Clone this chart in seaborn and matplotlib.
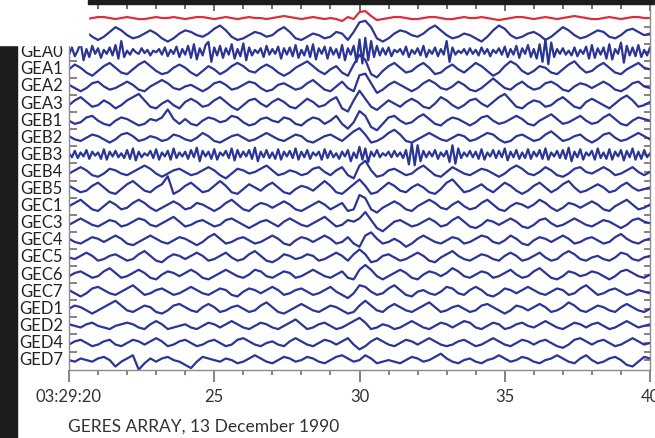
import numpy as np
import pandas as pd
import matplotlib
matplotlib.use("Agg")
import matplotlib.pyplot as plt
import seaborn as sns
from matplotlib.patches import Rectangle
from matplotlib.ticker import MultipleLocator

# station names, top to bottom (first two traces have no label)
stations = ["beam", "ref", "GEA0", "GEA1", "GEA2", "GEA3", "GEB1", "GEB2", "GEB3",
            "GEB4", "GEB5", "GEC1", "GEC3", "GEC4", "GEC5", "GEC6", "GEC7",
            "GED1", "GED2", "GED4", "GED7"]

# x tick labels (seconds after 03:29)
xtick_pos = [20, 25, 30, 35, 40]
xtick_lab = ["03:29:20", "25", "30", "35", "40"]

# traces, roughly in pixels of deflection
# coarse traces: one value every 0.2 s from 20 to 40 s
beam = [0,1,0,-1,0,1,1,0,-1,0, 1,0,-1,-1,0,1,0,0,1,0, -1,0,1,1,0,-1,0,1,0,-1,
        0,1,0,0,-1,0,1,2,1,0, -1,0,1,0,-1,0,-1,-3,1,-1, 6,7,2,-2,-1,0,1,1,0,-1,
        -1,0,1,1,0,-1,-1,0,1,0, 0,1,0,-1,-2,-1,0,1,1,0, -1,0,1,0,-1,0,1,2,1,0,
        -1,-1,0,1,0,-1,0,1,1,0, 0]
ref = [0,2,4,2,-1,-3,-1,2,5,3, 0,-2,-1,1,3,1,-2,-4,-2,1, 3,2,0,-1,1,4,6,3,-1,-3,
       -2,0,2,1,-1,0,3,5,2,-2, -3,-1,1,0,-2,-1,2,1,-3,2, 8,9,5,-2,-4,-2,1,3,2,0,
       -1,1,4,6,3,0,-2,-1,1,0, -2,-4,-1,3,6,4,0,-2,-1,1, 2,0,-3,-1,2,5,3,0,-2,-1,
       1,3,2,-1,-2,0,3,4,2,0, 1]
gea1 = [0,3,1,-2,-4,-1,2,4,1,-2, -3,0,3,5,2,-1,-3,-2,1,3, 1,-2,-4,-1,2,0,-3,-1,2,4,
        2,-1,-2,1,3,1,-2,-4,-2,1, 3,5,2,-1,-3,0,2,-2,-4,3, 9,6,-3,-5,-1,2,4,1,-2,-1,
        2,4,1,-3,-2,1,3,0,-2,1, 4,2,-1,-4,-2,2,5,3,-1,-3, -1,2,1,-2,-3,0,3,5,1,-2,
        -1,2,4,1,-2,-3,0,2,4,1, 0]
gea2 = [1,-1,-3,-1,2,3,0,-2,-1,1, 3,1,-2,-3,0,2,4,2,-1,-2, 0,1,-1,-3,-1,2,3,1,-2,-1,
        1,3,2,-1,-3,-2,1,2,0,-2, -1,2,4,1,-2,-3,0,3,-1,-3, 7,8,2,-4,-2,1,3,1,-1,-3,
        -1,2,4,2,-1,-2,0,3,1,-2, -3,-1,2,5,2,-1,-2,1,3,0, -2,-1,2,3,1,-2,-3,0,2,1,
        -1,1,3,1,-2,-3,-1,2,3,0, -1]
gea3 = [-1,2,4,1,-2,-1,2,0,-3,-1, 2,4,6,2,-2,-3,0,2,-1,-3, 1,3,1,-2,-1,2,4,1,-2,-4,
        -1,2,3,0,-2,1,3,1,-2,-3, 0,3,1,-2,-1,2,4,-3,-5,2, 8,3,-2,-4,-1,2,0,-2,1,3,
        1,-2,-3,0,4,2,-1,-3,-1,2, 3,0,-2,1,4,6,2,-2,-3,0, 2,1,-2,-1,2,4,1,-2,-3,1,
        3,1,-1,-3,0,3,5,2,-2,-1, 1]
geb1 = [0,-2,-1,2,3,0,-2,-3,0,2, 1,-1,-3,-2,1,0,2,7,1,-2, 1,-2,-3,0,2,1,-1,0,3,2,
        -1,-3,-2,1,2,0,-1,2,1,-2, -3,0,2,1,-2,0,3,-2,-5,-1, 6,3,-4,-6,-2,2,3,0,-2,-1,
        2,4,1,-2,-3,0,2,1,-1,-3, -1,2,3,0,-2,-1,1,3,1,-2, -3,0,2,4,1,-2,-1,1,3,0,
        -2,-1,2,4,1,-2,-3,0,2,1, 0]
geb2 = [1,-1,-2,0,2,1,-1,-3,-1,2, 3,1,-2,-1,1,0,-2,-1,2,1, -1,-2,0,3,1,-2,-3,-1,1,2,
        0,-2,-1,1,3,1,-1,-2,0,2, 1,-2,-3,-1,1,2,0,-2,1,4, 6,2,-3,-2,0,3,5,2,-2,-3,
        -1,1,3,1,-1,-2,0,2,1,-2, -1,1,3,2,-1,-3,-2,1,2,0, -2,-1,2,4,1,-2,-1,1,2,-1,
        -3,-1,2,3,0,-2,-1,1,3,1, -1]
geb4 = [-1,1,3,1,-2,-3,-1,2,1,-1, -2,0,2,4,2,-1,-3,-1,1,2, 0,-2,-1,1,3,1,-2,-4,-1,2,
        1,-1,0,2,4,1,-2,-1,1,0, -2,-1,2,3,0,-2,1,3,-2,-4, 4,7,1,-3,-2,1,2,0,-2,-1,
        2,4,1,-2,-3,0,3,1,-1,-2, 0,2,1,-1,-3,-1,2,4,2,-1, -2,0,3,1,-2,-3,-1,2,3,0,
        -1,1,3,1,-2,-1,1,3,0,-2, 0]
geb5 = [2,0,-2,-1,2,4,1,-2,-3,0, 3,5,2,-1,-2,1,3,8,-3,-1, 2,4,1,-2,-1,2,5,2,-2,-3,
        0,3,1,-1,2,4,1,-2,-3,0, 2,1,-1,2,5,2,-2,-3,0,3, 6,2,-3,-2,1,4,2,-1,-2,1,
        3,1,-2,-3,0,4,6,2,-2,-1, 1,3,0,-2,1,4,2,-1,-3,-1, 2,4,1,-2,0,3,5,1,-2,-1,
        1,3,1,-2,-1,2,4,1,-1,0, 1]
gec1 = [0,2,4,1,-2,-3,0,3,1,-2, -1,2,4,2,-1,-3,-1,1,3,1, -2,-1,2,1,-1,-3,-1,2,4,1,
        -2,-3,0,2,1,-1,1,3,1,-2, -3,-1,1,3,1,-2,0,2,-3,-2, 7,5,-2,-4,-1,1,3,1,-2,-3,
        0,2,4,2,-1,-2,1,3,0,-2, -1,2,4,1,-2,-3,0,2,1,-1, 1,4,2,-1,-3,-1,2,1,-1,1,
        3,1,-2,-3,0,2,4,1,-2,-1, 1]
gec3 = [-1,1,3,1,-1,-2,0,2,1,-2, -1,1,3,2,-1,-2,0,2,4,1, -2,-1,1,2,0,-2,-1,2,3,1,
        -1,-3,-1,1,2,0,-2,1,3,1, -1,-2,0,2,4,1,-2,-1,2,1, 3,7,2,-3,-5,-2,1,2,0,-2,
        -1,1,3,1,-2,-1,2,4,1,-2, -3,-1,2,1,-1,1,3,1,-2,-3, -1,2,3,0,-2,-1,1,3,1,-1,
        -2,0,2,1,-1,-3,-1,2,3,1, 0]
gec4 = [1,-1,-2,0,2,1,-1,1,3,1, -2,-3,-1,1,3,1,-1,-2,0,2, 1,-1,-3,-1,2,4,1,-2,-1,1,
        2,0,-2,-1,1,3,1,-2,-3,0, 2,1,-1,1,3,1,-2,-1,2,-2, -4,3,5,1,-2,-1,1,-1,-4,-2,
        1,3,1,-1,-2,0,2,1,-2,-1, 1,3,2,-1,-2,0,3,1,-2,-3, 0,2,1,-1,1,3,1,-2,-1,1,
        2,0,-2,-1,2,4,1,-1,-2,0, 1]
gec5 = [0,-1,1,3,1,-2,-1,1,2,0, -2,-1,2,4,1,-2,-3,0,2,1, -1,1,3,1,-2,-1,1,3,0,-2,
        -1,2,4,1,-2,-3,-1,2,1,-1, 0,2,1,-2,-1,1,3,1,-2,2, 5,2,-3,-2,1,2,0,-2,-1,1,
        3,1,-2,-3,0,2,4,1,-1,-2, 0,2,1,-1,-2,1,3,1,-2,-1, 1,3,0,-2,-1,2,4,2,-1,-2,
        0,1,-1,-2,0,3,2,-1,-2,0, 1]
gec6 = [-1,1,2,0,-2,-1,2,4,1,-2, -1,1,3,1,-2,-3,0,2,1,-1, 1,3,1,-2,-3,-1,1,3,1,-1,
        -2,0,3,2,-1,-2,0,2,1,-2, -1,1,3,1,-1,-2,0,2,-2,-3, 3,6,3,-1,-3,-1,1,3,1,-2,
        -3,0,2,1,-1,1,4,2,-1,-2, 0,2,1,-2,-1,1,3,0,-2,-1, 2,4,1,-2,-3,-1,2,1,-1,0,
        2,1,-1,-3,-1,2,3,1,-1,-2, 0]
gec7 = [1,-1,-3,-1,2,3,1,-1,-2,0, 2,4,1,-2,-1,1,2,0,-2,-1, 1,3,1,-1,-2,0,2,1,-2,-3,
        0,2,1,-1,1,3,1,-2,-1,1, 2,0,-2,-1,1,3,0,-2,-4,-1, 4,3,0,-2,-1,2,4,1,-2,-3,
        0,1,-1,-2,0,3,2,-1,-2,1, 3,1,-2,-3,-1,2,1,-1,1,3, 1,-1,-2,0,2,1,-2,-1,2,4,
        1,-2,-1,1,2,0,-2,-1,1,0, -1]
ged1 = [0,2,1,-1,-3,-1,1,3,5,2, -1,-2,0,2,1,-2,-3,-1,2,3, 1,-1,-2,1,3,1,-2,-1,1,2,
        0,-2,-1,2,4,1,-2,-3,-1,1, 3,1,-1,-2,0,2,1,-1,-3,-2, 2,5,2,-1,-2,1,3,1,-1,-2,
        0,2,4,1,-2,-1,1,2,0,-2, -1,2,3,1,-1,-3,-1,2,1,-1, 1,3,1,-2,-1,1,4,2,-1,-2,
        0,2,1,-1,-2,1,3,1,-1,-2, 0]
ged2 = [1,0,-1,1,2,0,-1,-2,0,1, 2,1,-1,-2,1,3,1,-2,-1,0, 1,-1,-2,0,2,1,-1,1,3,1,
        -1,-2,0,2,1,-1,-2,0,2,4, 1,-2,-1,1,2,0,-2,-1,1,3, 5,2,-2,-1,1,0,-2,-1,1,3,
        1,-1,-2,0,2,1,-1,1,3,2, -1,-2,0,2,1,-2,-1,1,2,0, -1,1,3,1,-1,-2,0,2,1,-1,
        1,2,0,-2,-1,1,3,1,-1,0, 1]
ged4 = [-1,1,2,0,-2,-1,1,2,-1,-2, 0,2,1,-1,1,3,1,-2,-1,1, 2,0,-2,-1,1,2,0,-2,-1,2,
        3,1,-1,-2,0,1,-1,-2,1,3, 1,-1,-2,0,2,1,-1,1,3,-1, -4,-2,1,3,1,-1,-2,0,2,1,
        -1,1,3,1,-1,-2,-1,1,2,0, -2,-1,1,3,1,-1,-2,0,2,1, -1,1,2,0,-2,-3,-1,2,3,1,
        -1,1,2,0,-2,-1,1,3,1,-1, 0]
ged7 = [0,-1,1,0,-1,1,2,0,-4,-1, 1,3,-6,-2,1,-1,1,2,0,-1, -3,-5,-1,2,1,0,-1,1,0,-2,
        -1,1,3,1,-1,-2,0,2,1,-1, 0,2,1,-1,-2,0,2,3,1,-1, 0,3,1,-2,-1,0,-1,-2,0,2,
        1,-1,0,2,4,1,-1,-2,0,1, -1,-2,0,1,3,1,-1,0,2,1, -1,-2,0,1,3,1,-1,-2,1,3,
        0,-2,-1,1,2,0,-3,-4,-1,2, 1]

# fine traces: one value every 0.1 s (the two noisy stations)
gea0 = [-3,6,-5,2,12,-10,4,-6,8,-2, 5,-7,3,-2,6,-4,9,-8,14,-6, 2,-3,4,0,-2,5,-1,3,-4,2,
        0,4,-3,6,-5,3,-2,7,-6,4, -3,8,-7,10,-9,5,-4,9,13,-12, 6,-4,8,-7,5,-3,10,-8,4,-5,
        11,-10,6,-4,3,-1,5,-6,8,-3, 4,-2,7,-8,5,-3,6,-5,9,-7, 3,-4,8,-6,10,-9,5,-2,7,-8,
        6,-3,4,-7,9,-10,5,-3,8,-12, 16,-14,18,-10,14,-6,8,-4,5,-3, 6,-5,3,0,4,-3,7,-6,3,-2,
        5,-4,8,-6,3,-2,6,-5,4,-3, 14,-12,6,-3,2,-1,4,-3,5,-2, 3,-4,6,-2,4,-5,3,-1,5,-3,
        7,-6,4,-3,8,-7,5,-2,9,-6, 4,-8,10,-12,16,-15,12,-6,4,-2, 5,-3,2,-4,6,-5,3,-2,7,-8,
        9,-7,5,-3,6,-8,10,-9,4,-2, 12,-13,8,-4,6,-5,9,-6,3,-4, 6]
geb3 = [2,-3,5,-4,3,-2,6,-5,4,-1, 3,-5,7,-6,4,-2,5,-3,2,-4, 6,-5,8,-7,4,-3,2,-1,5,-4,
        7,-6,3,-2,5,-6,8,-4,3,-2, 4,-5,6,-3,9,-8,5,-2,4,-5, 7,-6,3,-1,5,-4,8,-7,6,-3,
        4,-2,6,-5,9,-8,4,-3,6,-4, 3,-5,7,-6,4,-2,5,-4,8,-6, 4,-3,6,-5,3,-1,4,-6,7,-4,
        5,-3,2,-5,4,-2,6,-8,3,-4, 10,-6,8,-9,4,-2,6,-3,2,-1, 4,-3,5,-2,3,-4,6,-12,14,-13,
        12,-8,5,-3,4,-2,6,-5,3,-2, 5,-9,12,-11,8,-4,3,-2,5,-3, 4,-5,7,-6,3,-2,6,-4,5,-3,
        8,-7,4,-3,6,-5,3,-4,7,-5, 4,-2,6,-5,8,-6,3,-2,5,-4, 6,-5,9,-8,4,-3,7,-6,3,-1,
        5,-6,8,-4,3,-5,7,-6,4,-2, 6,-7,5,-3,8,-6,4,-5,6,-3, 2]

traces = {"beam": beam, "ref": ref, "GEA0": gea0, "GEA1": gea1, "GEA2": gea2,
          "GEA3": gea3, "GEB1": geb1, "GEB2": geb2, "GEB3": geb3, "GEB4": geb4,
          "GEB5": geb5, "GEC1": gec1, "GEC3": gec3, "GEC4": gec4, "GEC5": gec5,
          "GEC6": gec6, "GEC7": gec7, "GED1": ged1, "GED2": ged2, "GED4": ged4,
          "GED7": ged7}

# deflection per unit value, in trace spacings
px = 1 / 17.1
gain = {"beam": 1.0 * px, "GEA0": 0.8 * px, "GEB3": 0.8 * px}

rows = []
for i, name in enumerate(stations):
    vals = np.array(traces[name], dtype=float)
    t = 20 + np.arange(len(vals)) * (20 / (len(vals) - 1))
    g = gain.get(name, 1.6 * px)
    rows.append(pd.DataFrame({"t": t, "y": -i + vals * g, "station": name}))
df = pd.concat(rows, ignore_index=True)

sns.set_style("white")
plt.rcParams["font.family"] = ["Lato", "DejaVu Sans"]
plt.rcParams["lines.solid_joinstyle"] = "round"

fig = plt.figure(figsize=(6.55, 4.38), dpi=100)
ax = fig.add_axes([69 / 655, 68 / 438, 581 / 655, 367 / 438])

pal = {s: "#2a3596" for s in stations}
pal["beam"] = "#d8303c"
sns.lineplot(data=df, x="t", y="y", hue="station", palette=pal, legend=False,
             estimator=None, sort=False, lw=1.6, ax=ax)

ax.set_xlim(20, 40)
ax.set_ylim(-20.58, 0.88)
ax.set_xlabel("")
ax.set_ylabel("")

tick_c = "#6e6e6e"
for s in ["left", "bottom", "right"]:
    ax.spines[s].set_color("#8c8c8c")
    ax.spines[s].set_linewidth(1.0)
ax.spines["top"].set_visible(False)

ax.set_xticks(xtick_pos)
ax.set_xticklabels(xtick_lab)
ax.xaxis.set_minor_locator(MultipleLocator(1))
ax.tick_params(axis="x", which="major", bottom=True, direction="out", length=8.5,
               width=1.2, color=tick_c, labelsize=12, labelcolor="#333333", pad=5)
ax.tick_params(axis="x", which="minor", bottom=True, direction="out", length=3.5,
               width=1.2, color=tick_c)

# station labels and left ticks between traces
ax.set_yticks([-i - 0.5 for i in range(1, 20)])
ax.set_yticklabels([])
ax.tick_params(axis="y", left=True, direction="in", length=6, width=1.2, color=tick_c)
for i, name in enumerate(stations):
    if i < 2:
        continue
    ax.annotate(name, xy=(0, -i), xycoords=("axes fraction", "data"),
                xytext=(-4.5, 0), textcoords="offset points", ha="right",
                va="center", fontsize=12, color="#222222")

# right side ticks
ry = ax.secondary_yaxis("right")
ry.set_yticks([-0.5 * k for k in range(1, 41)])
ry.set_yticklabels([])
ry.tick_params(right=True, direction="in", length=4, width=1.2, color=tick_c)
ry.spines["right"].set_visible(False)

# top ticks
tx = ax.secondary_xaxis("top")
tx.set_xticks(xtick_pos)
tx.set_xticklabels([])
tx.xaxis.set_minor_locator(MultipleLocator(1))
tx.tick_params(which="major", top=True, direction="in", length=6, width=1.2, color="#555555")
tx.tick_params(which="minor", top=True, direction="in", length=4, width=1.2, color="#555555")
tx.spines["top"].set_visible(False)

fig.text(68 / 655, 1 - 427 / 438, "GERES ARRAY, 13 December 1990", fontsize=12.5,
         color="#333333", ha="left", va="center")

# screenshot frame
fig.add_artist(Rectangle((0, 0), 17 / 655, 393 / 438, transform=fig.transFigure,
                         color="#1c1c1c", zorder=10))
fig.add_artist(Rectangle((0, 1 - 45 / 438), 88 / 655, 45 / 438, transform=fig.transFigure,
                         color="white", zorder=10))
fig.add_artist(Rectangle((88 / 655, 1 - 3.5 / 438), 567 / 655, 3.5 / 438,
                         transform=fig.transFigure, color="#1c1c1c", zorder=10))

fig.savefig("out.png", dpi=100)
